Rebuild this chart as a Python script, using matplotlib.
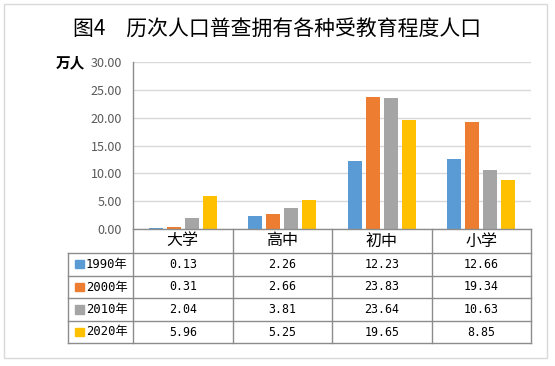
import matplotlib
matplotlib.use("Agg")
import matplotlib.pyplot as plt
import matplotlib.patches as mpatches
import numpy as np

plt.rcParams["font.family"] = ["Noto Sans CJK SC", "DejaVu Sans"]

# --- data ---
categories = ["大学", "高中", "初中", "小学"]
years = ["1990年", "2000年", "2010年", "2020年"]
v1990 = [0.13, 2.26, 12.23, 12.66]
v2000 = [0.31, 2.66, 23.83, 19.34]
v2010 = [2.04, 3.81, 23.64, 10.63]
v2020 = [5.96, 5.25, 19.65, 8.85]
series = [v1990, v2000, v2010, v2020]
colors = ["#5b9bd5", "#ed7d31", "#a5a5a5", "#ffc000"]
yticks = [0, 5, 10, 15, 20, 25, 30]

W, H = 555, 366
fig = plt.figure(figsize=(W / 100, H / 100), dpi=100, facecolor="white")

# pixel layout
px_left, px_right = 133, 531
px_top, px_zero = 62.3, 229
row_edges = [229, 253, 275.7, 298.3, 320.7, 343.3]
key_left = 68
mono = ["DejaVu Sans Mono", "Noto Sans CJK SC"]

ax = fig.add_axes([px_left / W, 1 - px_zero / H,
                   (px_right - px_left) / W, (px_zero - px_top) / H])
n = len(categories)
x = np.arange(n)
bw, step = 0.141, 0.181
for k, (vals, col) in enumerate(zip(series, colors)):
    ax.bar(x + (k - 1.5) * step, vals, width=bw, color=col, zorder=3)

ax.set_xlim(-0.5, n - 0.5)
ax.set_ylim(0, 30)
ax.set_yticks(yticks)
ax.set_yticklabels([f"{t:.2f}" for t in yticks])
ax.tick_params(axis="y", length=0, pad=8, labelsize=9, labelcolor="#595959")
ax.set_xticks([])
ax.grid(axis="y", color="#d9d9d9", linewidth=1, zorder=0)
for s in ["top", "right", "bottom"]:
    ax.spines[s].set_visible(False)
ax.spines["left"].set_color("#8c8c8c")
ax.spines["left"].set_linewidth(1)

# overlay in pixel coords for table, title, frame
ov = fig.add_axes([0, 0, 1, 1], facecolor="none")
ov.set_xlim(0, W)
ov.set_ylim(H, 0)
ov.axis("off")

line_c = "#8c8c8c"
col_w = (px_right - px_left) / n
col_edges = [px_left + i * col_w for i in range(n + 1)]

# horizontal lines
ov.plot([px_left, px_right], [row_edges[0]] * 2, color=line_c, lw=1)
for y in row_edges[1:]:
    ov.plot([key_left, px_right], [y, y], color=line_c, lw=1)
# vertical lines
for xe in col_edges:
    ov.plot([xe, xe], [row_edges[0], row_edges[-1]], color=line_c, lw=1)
ov.plot([key_left, key_left], [row_edges[1], row_edges[-1]], color=line_c, lw=1)

# header row
for i, c in enumerate(categories):
    ov.text((col_edges[i] + col_edges[i + 1]) / 2, (row_edges[0] + row_edges[1]) / 2,
            c, ha="center", va="center", fontsize=11.5, color="black")

# data rows
for r, (yr, vals, col) in enumerate(zip(years, series, colors)):
    yc = (row_edges[r + 1] + row_edges[r + 2]) / 2
    ov.add_patch(mpatches.Rectangle((75, yc - 4.5), 8.5, 8.5, color=col))
    ov.text(86, yc, yr, ha="left", va="center", fontsize=8.8, color="black",
            family=mono)
    for i, v in enumerate(vals):
        ov.text((col_edges[i] + col_edges[i + 1]) / 2, yc, f"{v:.2f}",
                ha="center", va="center", fontsize=8.4, color="black",
                family=mono)

# axis unit label
ov.text(70, 62, "万人", ha="center", va="center", fontsize=10.5,
        fontweight="bold", color="black")

# title
ov.text(W / 2, 30, "图4　历次人口普查拥有各种受教育程度人口", ha="center", va="center",
        fontsize=15, color="black")

# outer frame
ov.add_patch(mpatches.Rectangle((4, 4), 543, 354, fill=False,
                                edgecolor="#d9d9d9", lw=1))

fig.savefig("out.png", dpi=100, facecolor="white")
